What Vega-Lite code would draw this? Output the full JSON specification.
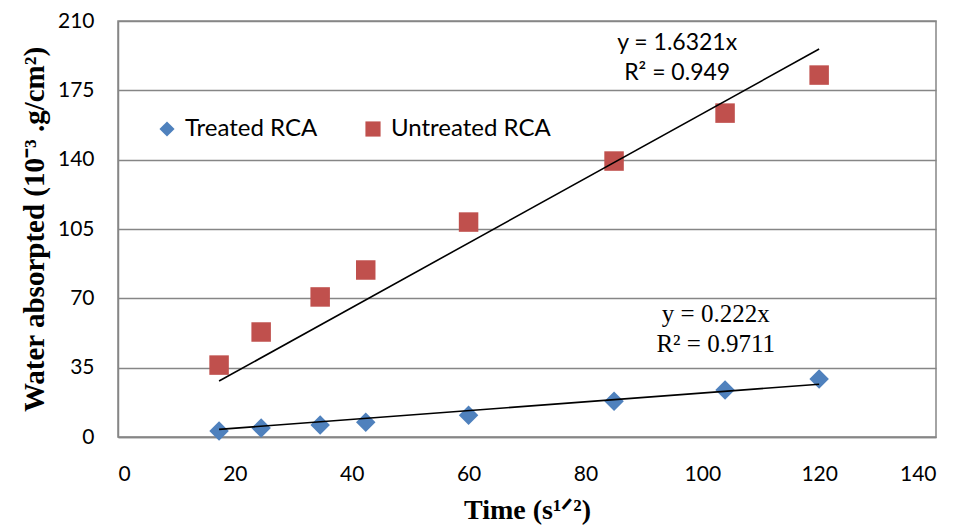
{
  "$schema": "https://vega.github.io/schema/vega-lite/v6.json",
  "width": 818,
  "height": 416,
  "autosize": {"type": "none"},
  "padding": {"left": 118, "top": 21, "right": 20, "bottom": 89},
  "background": "white",
  "config": {
    "view": {"stroke": "#868686", "strokeWidth": 1.5},
    "font": "Lato"
  },
  "datasets": {
    "points": [
      {"t": 17.3, "w": 3.0, "series": "Treated RCA"},
      {"t": 24.5, "w": 4.5, "series": "Treated RCA"},
      {"t": 34.6, "w": 6.0, "series": "Treated RCA"},
      {"t": 42.4, "w": 7.5, "series": "Treated RCA"},
      {"t": 60.0, "w": 11.0, "series": "Treated RCA"},
      {"t": 84.9, "w": 18.0, "series": "Treated RCA"},
      {"t": 103.9, "w": 23.7, "series": "Treated RCA"},
      {"t": 120.0, "w": 29.3, "series": "Treated RCA"},
      {"t": 17.3, "w": 36.3, "series": "Untreated RCA"},
      {"t": 24.5, "w": 53.0, "series": "Untreated RCA"},
      {"t": 34.6, "w": 70.7, "series": "Untreated RCA"},
      {"t": 42.4, "w": 84.3, "series": "Untreated RCA"},
      {"t": 60.0, "w": 108.5, "series": "Untreated RCA"},
      {"t": 84.9, "w": 139.3, "series": "Untreated RCA"},
      {"t": 103.9, "w": 163.5, "series": "Untreated RCA"},
      {"t": 120.0, "w": 182.7, "series": "Untreated RCA"}
    ],
    "trends": [
      {"t": 17.3, "w": 3.84, "line": "treated"},
      {"t": 120.0, "w": 26.64, "line": "treated"},
      {"t": 17.3, "w": 28.24, "line": "untreated"},
      {"t": 120.0, "w": 195.85, "line": "untreated"}
    ],
    "labels_sans": [
      {"t": 95.7, "w": 198.9, "text": "y = 1.6321x"},
      {"t": 95.7, "w": 183.7, "text": "R² = 0.949"}
    ],
    "labels_serif": [
      {"t": 102.3, "w": 62.1, "text": "y = 0.222x"},
      {"t": 102.3, "w": 46.9, "text": "R² = 0.9711"}
    ]
  },
  "layer": [
    {
      "data": {"name": "points"},
      "mark": {"type": "point", "filled": true, "opacity": 1, "size": 380},
      "encoding": {
        "x": {
          "field": "t", "type": "quantitative",
          "scale": {"domain": [0, 140], "nice": false},
          "axis": {
            "values": [0, 20, 40, 60, 80, 100, 120, 140],
            "grid": false,
            "title": "Time (s¹ᐟ²)",
            "titleFont": "Liberation Serif", "titleFontSize": 28, "titleFontWeight": "bold",
            "titleColor": "black", "titlePadding": 12,
            "labelFont": "Lato", "labelFontSize": 21, "labelColor": "black", "labelPadding": 26,
            "domainColor": "#868686", "domainWidth": 1.5,
            "ticks": false
          }
        },
        "y": {
          "field": "w", "type": "quantitative",
          "scale": {"domain": [0, 210], "nice": false},
          "axis": {
            "values": [0, 35, 70, 105, 140, 175, 210],
            "grid": true, "gridColor": "#868686", "gridWidth": 1.5,
            "title": "Water absorpted (10⁻³ .g/cm²)",
            "titleFont": "Liberation Serif", "titleFontSize": 29, "titleFontWeight": "bold",
            "titleColor": "black", "titlePadding": 8,
            "labelFont": "Lato", "labelFontSize": 21, "labelColor": "black", "labelPadding": 24,
            "domainColor": "#868686", "domainWidth": 1.5,
            "ticks": false
          }
        },
        "color": {
          "field": "series", "type": "nominal",
          "scale": {"domain": ["Treated RCA", "Untreated RCA"], "range": ["#4F81BD", "#C0504D"]},
          "legend": {
            "title": null, "orient": "none", "legendX": 37, "legendY": 96,
            "direction": "horizontal", "labelFontSize": 24, "labelFont": "Lato", "labelColor": "black",
            "symbolSize": 230, "columnPadding": 43, "labelOffset": 6, "labelLimit": 300
          }
        },
        "shape": {
          "field": "series", "type": "nominal",
          "scale": {"domain": ["Treated RCA", "Untreated RCA"], "range": ["diamond", "square"]}
        }
      }
    },
    {
      "data": {"name": "trends"},
      "mark": {"type": "line", "color": "black", "strokeWidth": 1.6},
      "encoding": {
        "x": {"field": "t", "type": "quantitative"},
        "y": {"field": "w", "type": "quantitative"},
        "detail": {"field": "line"}
      }
    },
    {
      "data": {"name": "labels_sans"},
      "mark": {"type": "text", "font": "Lato", "fontSize": 23, "color": "black", "align": "center", "baseline": "middle"},
      "encoding": {
        "x": {"field": "t", "type": "quantitative"},
        "y": {"field": "w", "type": "quantitative"},
        "text": {"field": "text"}
      }
    },
    {
      "data": {"name": "labels_serif"},
      "mark": {"type": "text", "font": "Liberation Serif", "fontSize": 25, "color": "black", "align": "center", "baseline": "middle"},
      "encoding": {
        "x": {"field": "t", "type": "quantitative"},
        "y": {"field": "w", "type": "quantitative"},
        "text": {"field": "text"}
      }
    }
  ]
}
